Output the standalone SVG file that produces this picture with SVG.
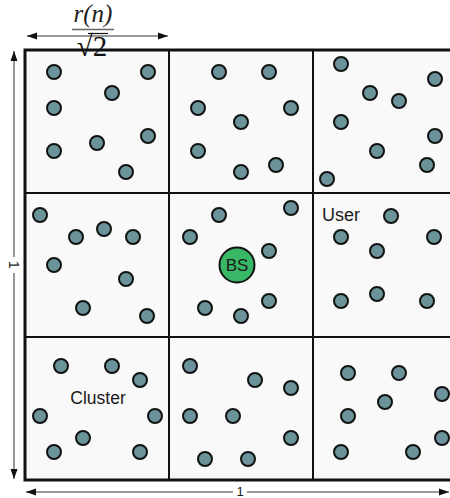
<svg xmlns="http://www.w3.org/2000/svg" width="450" height="498" viewBox="0 0 450 498">
<style>
.u{fill:#6b939a;stroke:#111;stroke-width:2}
.grid{stroke:#111;stroke-width:2;fill:none}
.dim{stroke:#333;stroke-width:1;fill:none}
.lbl{font-family:"Liberation Sans",Arial,sans-serif;fill:#1a1a1a}
</style>
<defs>
<marker id="ah" viewBox="0 0 10 10" refX="10" refY="5" markerWidth="10" markerHeight="10" markerUnits="userSpaceOnUse" orient="auto-start-reverse">
<path d="M0,1.5 L10,5 L0,8.5 Z" fill="#111"/>
</marker>
</defs>
<rect x="0" y="0" width="450" height="498" fill="#fff"/>
<g id="grid">
<rect x="25" y="50" width="440" height="430" fill="#f9f9f9"/>
<line class="grid" x1="169" y1="50" x2="169" y2="480"/>
<line class="grid" x1="313" y1="50" x2="313" y2="480"/>
<line class="grid" x1="25" y1="193" x2="450" y2="193"/>
<line class="grid" x1="25" y1="337" x2="450" y2="337"/>
<path d="M451,50 L25,50 L25,480 L451,480" fill="none" stroke="#111" stroke-width="3"/>
</g>
<g id="connectors">
<line class="dim" x1="27" y1="36" x2="168" y2="36" marker-start="url(#ah)" marker-end="url(#ah)"/>
<line class="dim" x1="14" y1="51" x2="14" y2="257" marker-start="url(#ah)"/>
<line class="dim" x1="14" y1="273" x2="14" y2="479" marker-end="url(#ah)"/>
<line class="dim" x1="26" y1="492" x2="233" y2="492" marker-start="url(#ah)"/>
<line class="dim" x1="247" y1="492" x2="449" y2="492" marker-end="url(#ah)"/>
</g>
<g id="dim-labels">
<text x="93" y="22" text-anchor="middle" font-family="Liberation Serif,serif" font-style="italic" font-size="25" fill="#222">r(n)</text>
<line x1="72" y1="29.5" x2="114" y2="29.5" stroke="#666" stroke-width="1.5"/>
<text x="92" y="56" text-anchor="middle" font-family="Liberation Serif,serif" font-size="29" fill="#111">√2</text>
<line x1="88" y1="33.5" x2="108" y2="33.5" stroke="#111" stroke-width="1.2"/>
<text x="240" y="496" text-anchor="middle" class="lbl" style="font-size:13px">1</text>
<text transform="translate(9,265) rotate(90)" text-anchor="middle" class="lbl" style="font-size:15px">1</text>
</g>
<g id="users">
<circle class="u" cx="54" cy="72" r="7"/><circle class="u" cx="148" cy="72" r="7"/><circle class="u" cx="112" cy="93" r="7"/><circle class="u" cx="54" cy="108" r="7"/><circle class="u" cx="148" cy="136" r="7"/><circle class="u" cx="97" cy="143" r="7"/><circle class="u" cx="54" cy="151" r="7"/><circle class="u" cx="126" cy="172" r="7"/>
<circle class="u" cx="219" cy="72" r="7"/><circle class="u" cx="269" cy="72" r="7"/><circle class="u" cx="198" cy="108" r="7"/><circle class="u" cx="291" cy="108" r="7"/><circle class="u" cx="241" cy="122" r="7"/><circle class="u" cx="198" cy="151" r="7"/><circle class="u" cx="276" cy="165" r="7"/><circle class="u" cx="241" cy="172" r="7"/>
<circle class="u" cx="341" cy="64" r="7"/><circle class="u" cx="435" cy="79" r="7"/><circle class="u" cx="370" cy="93" r="7"/><circle class="u" cx="399" cy="101" r="7"/><circle class="u" cx="341" cy="122" r="7"/><circle class="u" cx="435" cy="136" r="7"/><circle class="u" cx="377" cy="151" r="7"/><circle class="u" cx="427" cy="165" r="7"/><circle class="u" cx="327" cy="179" r="7"/>
<circle class="u" cx="40" cy="215" r="7"/><circle class="u" cx="76" cy="237" r="7"/><circle class="u" cx="104" cy="229" r="7"/><circle class="u" cx="133" cy="237" r="7"/><circle class="u" cx="54" cy="265" r="7"/><circle class="u" cx="126" cy="279" r="7"/><circle class="u" cx="83" cy="308" r="7"/><circle class="u" cx="147" cy="316" r="7"/>
<circle class="u" cx="219" cy="215" r="7"/><circle class="u" cx="291" cy="208" r="7"/><circle class="u" cx="190" cy="237" r="7"/><circle class="u" cx="269" cy="251" r="7"/><circle class="u" cx="205" cy="308" r="7"/><circle class="u" cx="269" cy="301" r="7"/><circle class="u" cx="241" cy="316" r="7"/>
<circle class="u" cx="391" cy="216" r="7"/><circle class="u" cx="341" cy="237" r="7"/><circle class="u" cx="434" cy="237" r="7"/><circle class="u" cx="377" cy="251" r="7"/><circle class="u" cx="341" cy="301" r="7"/><circle class="u" cx="377" cy="294" r="7"/><circle class="u" cx="427" cy="301" r="7"/>
<circle class="u" cx="61" cy="366" r="7"/><circle class="u" cx="112" cy="366" r="7"/><circle class="u" cx="140" cy="380" r="7"/><circle class="u" cx="40" cy="416" r="7"/><circle class="u" cx="155" cy="416" r="7"/><circle class="u" cx="83" cy="438" r="7"/><circle class="u" cx="54" cy="452" r="7"/><circle class="u" cx="140" cy="452" r="7"/>
<circle class="u" cx="190" cy="366" r="7"/><circle class="u" cx="255" cy="380" r="7"/><circle class="u" cx="291" cy="388" r="7"/><circle class="u" cx="190" cy="416" r="7"/><circle class="u" cx="233" cy="416" r="7"/><circle class="u" cx="291" cy="438" r="7"/><circle class="u" cx="205" cy="459" r="7"/><circle class="u" cx="248" cy="459" r="7"/>
<circle class="u" cx="348" cy="373" r="7"/><circle class="u" cx="399" cy="373" r="7"/><circle class="u" cx="442" cy="394" r="7"/><circle class="u" cx="385" cy="402" r="7"/><circle class="u" cx="348" cy="416" r="7"/><circle class="u" cx="442" cy="438" r="7"/><circle class="u" cx="341" cy="452" r="7"/><circle class="u" cx="413" cy="452" r="7"/>
</g>
<g id="bs">
<circle cx="237" cy="265" r="17.5" fill="#38b866" stroke="#111" stroke-width="2"/>
<text x="237" y="271" text-anchor="middle" class="lbl" style="font-size:17px">BS</text>
</g>
<g id="label-user"><text x="322" y="221" class="lbl" style="font-size:18px">User</text></g>
<g id="label-cluster"><text x="98" y="404" text-anchor="middle" class="lbl" style="font-size:17.5px">Cluster</text></g>
</svg>
